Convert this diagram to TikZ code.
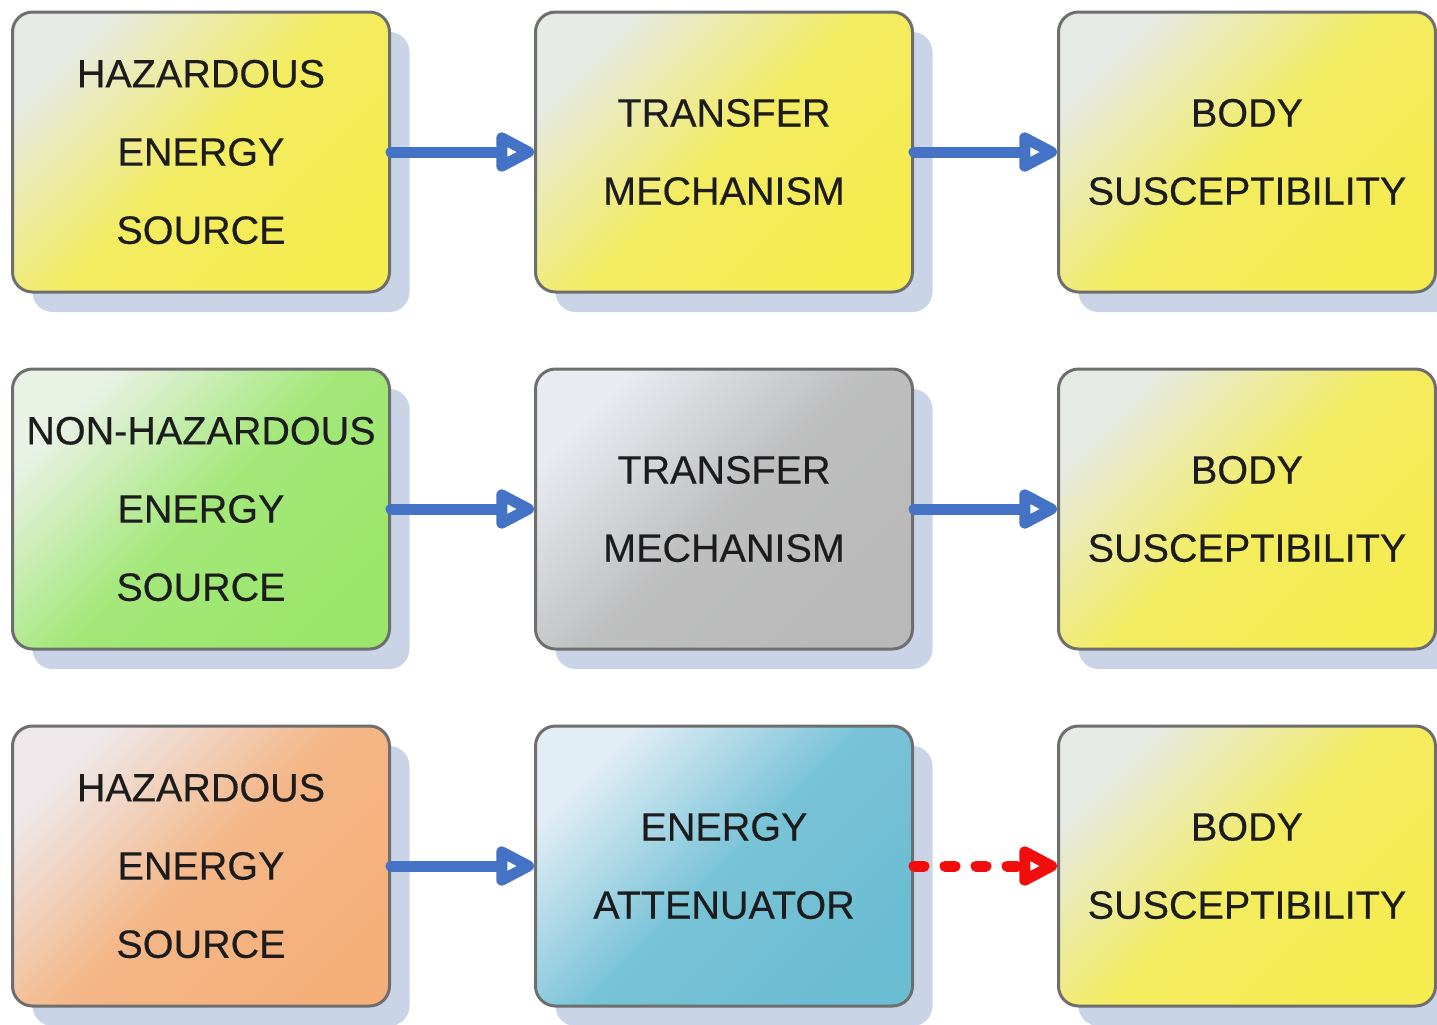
\documentclass[tikz,border=0pt]{standalone}
\usepackage{fontspec}
\setmainfont{Liberation Sans}
\newfontfamily\boxfont{Liberation Sans}[FakeBold=0.35]
\usetikzlibrary{positioning, shadows, arrows.meta}
\usepackage{xcolor}

\definecolor{BoxEdge}{HTML}{6E6E6E}
\definecolor{ShadowBlue}{HTML}{C9D5E6}
\definecolor{TextDark}{HTML}{1C1C1C}
\definecolor{FlowBlue}{HTML}{4472C4}
\definecolor{CutRed}{HTML}{F20D0D}
\definecolor{YellowLight}{HTML}{E6EAE4}
\definecolor{YellowDark}{HTML}{F5EC4F}
\definecolor{GreenLight}{HTML}{EAF2E6}
\definecolor{GreenDark}{HTML}{9AE66B}
\definecolor{GreyLight}{HTML}{E8EBF1}
\definecolor{GreyDark}{HTML}{B9B9B9}
\definecolor{OrangeLight}{HTML}{EEE8EA}
\definecolor{OrangeDark}{HTML}{F5B07A}
\definecolor{BlueLight}{HTML}{E2EEF6}
\definecolor{BlueDark}{HTML}{6BBDD3}

\begin{document}
\begin{tikzpicture}[
    box/.style={
        draw=BoxEdge,
        line width=0.06cm,
        rounded corners=0.4cm,
        minimum width=7.54cm,
        minimum height=5.6cm,
        inner sep=0pt,
        align=center,
        text=TextDark,
        font=\boxfont\fontsize{22.5}{44.5}\selectfont,
        drop shadow={shadow xshift=0.4cm, shadow yshift=-0.4cm,
            fill=ShadowBlue, opacity=1}
    },
    stage/.style 2 args={box, top color=#1, bottom color=#2,
        middle color=#2!88!#1, shading angle=45},
    flow/.style={draw=FlowBlue, line width=0.22cm, line cap=round,
        -{Triangle[open, round, length=0.9cm, width=0.86cm]}},
    cut/.style={draw=CutRed, line width=0.22cm, line cap=round,
        dash pattern=on 0.2cm off 0.42cm,
        -{Triangle[open, round, length=0.9cm, width=0.86cm]}},
    node distance=1.48cm and 2.86cm
]
\useasboundingbox (0,0) rectangle (28.74,-20.48);

% top row
\node[stage={YellowLight}{YellowDark}] (src1) at (4.02,-3.04)
    {HAZARDOUS\\ENERGY\\SOURCE};
\node[stage={YellowLight}{YellowDark}, right=of src1] (mech1)
    {TRANSFER\\MECHANISM};
\node[stage={YellowLight}{YellowDark}, right=of mech1] (body1)
    {BODY\\SUSCEPTIBILITY};

% middle row
\node[stage={GreenLight}{GreenDark}, below=of src1] (src2)
    {NON-HAZARDOUS\\ENERGY\\SOURCE};
\node[stage={GreyLight}{GreyDark}, right=of src2] (mech2)
    {TRANSFER\\MECHANISM};
\node[stage={YellowLight}{YellowDark}, right=of mech2] (body2)
    {BODY\\SUSCEPTIBILITY};

% bottom row
\node[stage={OrangeLight}{OrangeDark}, below=of src2] (src3)
    {HAZARDOUS\\ENERGY\\SOURCE};
\node[stage={BlueLight}{BlueDark}, right=of src3] (mech3)
    {ENERGY\\ATTENUATOR};
\node[stage={YellowLight}{YellowDark}, right=of mech3] (body3)
    {BODY\\SUSCEPTIBILITY};

\draw[flow] (src1) -- (mech1);
\draw[flow] (mech1) -- (body1);
\draw[flow] (src2) -- (mech2);
\draw[flow] (mech2) -- (body2);
\draw[flow] (src3) -- (mech3);
\draw[cut] (mech3) -- (body3);
\end{tikzpicture}
\end{document}
